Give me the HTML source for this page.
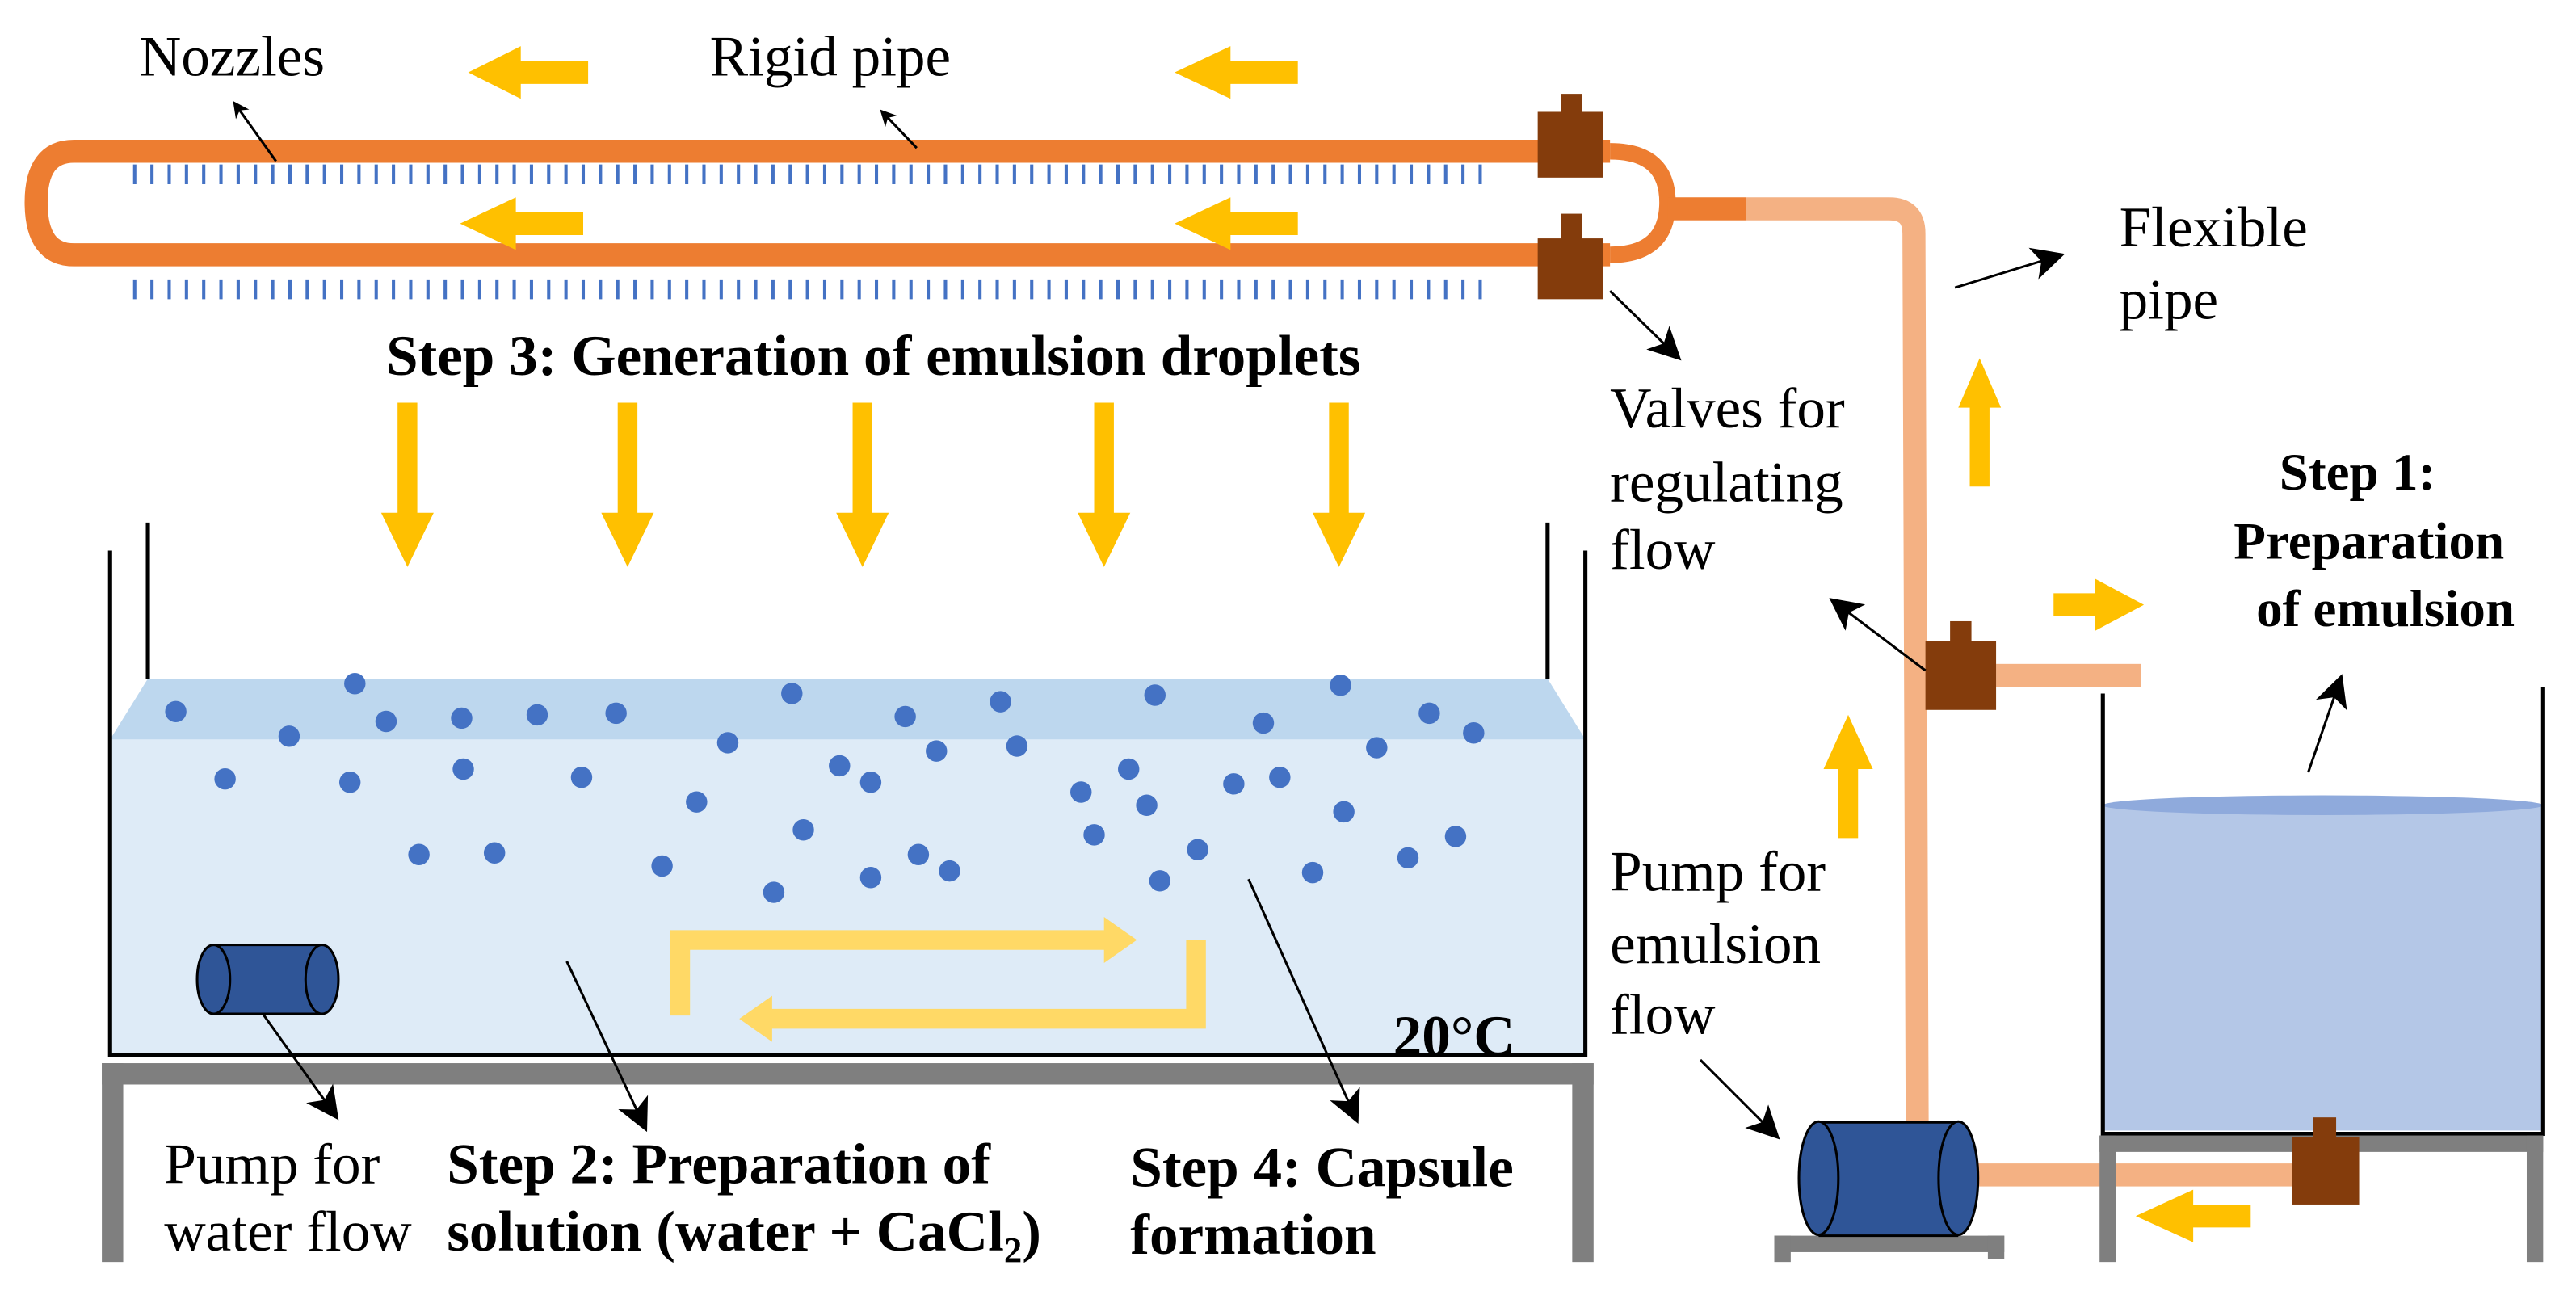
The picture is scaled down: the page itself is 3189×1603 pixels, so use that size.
<!DOCTYPE html>
<html><head><meta charset="utf-8"><style>
html,body{margin:0;padding:0;background:#fff;}
svg{display:block;}
text{font-family:"Liberation Serif",serif;fill:#000;}
.b{font-weight:bold;}
</style></head><body>
<svg width="3189" height="1603" viewBox="0 0 1568 788" xmlns="http://www.w3.org/2000/svg">
<defs>
<marker id="ah" markerWidth="10" markerHeight="10" refX="8" refY="5" orient="auto" markerUnits="userSpaceOnUse"><path d="M0,0 L10,5 L0,10 L3,5 z" fill="#000"/></marker>
<marker id="ahb" markerWidth="22" markerHeight="20" refX="18" refY="10" orient="auto" markerUnits="userSpaceOnUse"><path d="M0,0 L20,10 L0,20 L5,10 z" fill="#000"/></marker>
</defs>

<path d="M980,92 L45,92 Q22,92 22,123 Q22,155 45,155 L980,155" fill="none" stroke="#ED7D31" stroke-width="14"/>
<path d="M980,92 Q1015,92 1015,123 Q1015,155 980,155" fill="none" stroke="#ED7D31" stroke-width="10"/>
<rect x="1015" y="120" width="48" height="14" fill="#ED7D31"/>
<path d="M1063,127 L1150,127 Q1165,127 1165,142 L1167,690" fill="none" stroke="#F4B183" stroke-width="14"/>
<rect x="1215" y="404" width="88" height="14" fill="#F4B183"/>
<rect x="1200" y="708" width="195" height="14" fill="#F4B183"/>

<g stroke="#4472C4" stroke-width="2">
<path id="nz" d="M82,100v12M92.5,100v12M103,100v12M113.5,100v12M124,100v12M134.5,100v12M145,100v12M155.5,100v12M166,100v12M176.5,100v12M187,100v12M197.5,100v12M208,100v12M218.5,100v12M229,100v12M239.5,100v12M250,100v12M260.5,100v12M271,100v12M281.5,100v12M292,100v12M302.5,100v12M313,100v12M323.5,100v12M334,100v12M344.5,100v12M355,100v12M365.5,100v12M376,100v12M386.5,100v12M397,100v12M407.5,100v12M418,100v12M428.5,100v12M439,100v12M449.5,100v12M460,100v12M470.5,100v12M481,100v12M491.5,100v12M502,100v12M512.5,100v12M523,100v12M533.5,100v12M544,100v12M554.5,100v12M565,100v12M575.5,100v12M586,100v12M596.5,100v12M607,100v12M617.5,100v12M628,100v12M638.5,100v12M649,100v12M659.5,100v12M670,100v12M680.5,100v12M691,100v12M701.5,100v12M712,100v12M722.5,100v12M733,100v12M743.5,100v12M754,100v12M764.5,100v12M775,100v12M785.5,100v12M796,100v12M806.5,100v12M817,100v12M827.5,100v12M838,100v12M848.5,100v12M859,100v12M869.5,100v12M880,100v12M890.5,100v12M901,100v12"/>
<use href="#nz" y="70"/>
</g>

<g fill="#843C0C">
<rect x="950" y="57" width="13" height="13"/><rect x="936" y="68" width="40" height="40"/>
<rect x="950" y="130" width="13" height="18"/><rect x="936" y="145" width="40" height="37"/>
<rect x="1187" y="378" width="13" height="14"/><rect x="1172" y="390" width="43" height="42"/>
</g>

<g fill="#FFC000">
<path d="M358,37 L317,37 L317,28 L285,44 L317,60 L317,51 L358,51 z"/>
<path d="M790,37 L749,37 L749,28 L715,44 L749,60 L749,51 L790,51 z"/>
<path d="M355,129 L314,129 L314,120 L280,136 L314,152 L314,143 L355,143 z"/>
<path d="M790,129 L749,129 L749,120 L715,136 L749,152 L749,143 L790,143 z"/>
<path d="M1370,733 L1335,733 L1335,724 L1300,740 L1335,756 L1335,747 L1370,747 z"/>
<path d="M1250,361 L1275,361 L1275,352 L1305,368 L1275,384 L1275,375 L1250,375 z"/>
<path d="M1199,296 L1199,248 L1192,248 L1205,218 L1218,248 L1211,248 L1211,296 z"/>
<path d="M1119,510 L1119,468 L1110,468 L1125,435 L1140,468 L1131,468 L1131,510 z"/>
<g id="da"><path d="M242,245 L242,312 L232,312 L248,345 L264,312 L254,312 L254,245 z"/></g>
<use href="#da" x="134"/><use href="#da" x="277"/><use href="#da" x="424"/><use href="#da" x="567"/>
</g>

<polygon points="90,413 942,413 965,450 67,450" fill="#BDD7EE"/>
<rect x="67" y="450" width="898" height="191" fill="#DEEBF7"/>
<g stroke="#000" stroke-width="2.5" fill="none">
<path d="M67,335 L67,642 L965,642 L965,335"/>
<path d="M90,318 L90,413"/><path d="M942,318 L942,413"/>
</g>
<g fill="#7F7F7F">
<rect x="62" y="647" width="908" height="13"/><rect x="62" y="647" width="13" height="121"/><rect x="957" y="647" width="13" height="121"/>
</g>
<g fill="#4472C4">
<circle cx="107" cy="433" r="6.5"/><circle cx="216" cy="416" r="6.5"/><circle cx="235" cy="439" r="6.5"/><circle cx="281" cy="437" r="6.5"/><circle cx="327" cy="435" r="6.5"/><circle cx="375" cy="434" r="6.5"/><circle cx="176" cy="448" r="6.5"/><circle cx="137" cy="474" r="6.5"/><circle cx="213" cy="476" r="6.5"/><circle cx="282" cy="468" r="6.5"/><circle cx="354" cy="473" r="6.5"/><circle cx="443" cy="452" r="6.5"/><circle cx="482" cy="422" r="6.5"/><circle cx="551" cy="436" r="6.5"/><circle cx="609" cy="427" r="6.5"/><circle cx="570" cy="457" r="6.5"/><circle cx="619" cy="454" r="6.5"/><circle cx="703" cy="423" r="6.5"/><circle cx="769" cy="440" r="6.5"/><circle cx="816" cy="417" r="6.5"/><circle cx="870" cy="434" r="6.5"/><circle cx="897" cy="446" r="6.5"/><circle cx="838" cy="455" r="6.5"/><circle cx="511" cy="466" r="6.5"/><circle cx="530" cy="476" r="6.5"/><circle cx="424" cy="488" r="6.5"/><circle cx="489" cy="505" r="6.5"/><circle cx="403" cy="527" r="6.5"/><circle cx="471" cy="543" r="6.5"/><circle cx="530" cy="534" r="6.5"/><circle cx="559" cy="520" r="6.5"/><circle cx="578" cy="530" r="6.5"/><circle cx="255" cy="520" r="6.5"/><circle cx="301" cy="519" r="6.5"/><circle cx="658" cy="482" r="6.5"/><circle cx="687" cy="468" r="6.5"/><circle cx="698" cy="490" r="6.5"/><circle cx="666" cy="508" r="6.5"/><circle cx="751" cy="477" r="6.5"/><circle cx="779" cy="473" r="6.5"/><circle cx="818" cy="494" r="6.5"/><circle cx="729" cy="517" r="6.5"/><circle cx="706" cy="536" r="6.5"/><circle cx="799" cy="531" r="6.5"/><circle cx="857" cy="522" r="6.5"/><circle cx="886" cy="509" r="6.5"/>
</g>
<g fill="#FFD966">
<path d="M408,618 L408,566 L672,566 L672,558 L692,572 L672,586 L672,578 L420,578 L420,618 z"/>
<path d="M734,572 L734,626 L470,626 L470,634 L450,620 L470,606 L470,614 L722,614 L722,572 z"/>
</g>
<g stroke="#000" stroke-width="1.5">
<rect x="130" y="575" width="66" height="42" fill="#2F5597" stroke="none"/>
<path d="M130,575 L196,575 M130,617 L196,617" fill="none"/>
<ellipse cx="130" cy="596" rx="10" ry="21" fill="#2F5597"/>
<ellipse cx="196" cy="596" rx="10" ry="21" fill="#2F5597"/>
</g>

<rect x="1281" y="490" width="267" height="198" fill="#B4C7E7"/>
<ellipse cx="1414" cy="490" rx="134" ry="6" fill="#8FAADC"/>
<path d="M1280,422 L1280,690 L1548,690 L1548,418" fill="none" stroke="#000" stroke-width="2.5"/>
<g fill="#7F7F7F">
<rect x="1278" y="691" width="270" height="10"/><rect x="1278" y="691" width="10" height="77"/><rect x="1538" y="691" width="10" height="77"/>
<rect x="1080" y="752" width="140" height="10"/><rect x="1080" y="752" width="10" height="16"/><rect x="1210" y="752" width="10" height="14"/>
</g>
<g fill="#843C0C"><rect x="1408" y="680" width="14" height="13"/><rect x="1395" y="692" width="41" height="41"/></g>
<g stroke="#000" stroke-width="1.5">
<rect x="1107" y="683" width="85" height="69" fill="#2F5597" stroke="none"/>
<path d="M1107,683 L1192,683 M1107,752 L1192,752" fill="none"/>
<ellipse cx="1107" cy="717" rx="12" ry="34.5" fill="#2F5597"/>
<ellipse cx="1192" cy="717" rx="12" ry="34.5" fill="#2F5597"/>
</g>

<g stroke="#000" stroke-width="1.5" fill="none">
<path d="M168,98 L143,63" marker-end="url(#ah)"/>
<path d="M558,90 L537,68" marker-end="url(#ah)"/>
<path d="M980,177 L1022,218" marker-end="url(#ahb)"/>
<path d="M1190,175 L1255,155" marker-end="url(#ahb)"/>
<path d="M1172,408 L1115,365" marker-end="url(#ahb)"/>
<path d="M1405,470 L1425,412" marker-end="url(#ahb)"/>
<path d="M1035,645 L1082,692" marker-end="url(#ahb)"/>
<path d="M160,617 L205,680" marker-end="url(#ahb)"/>
<path d="M345,585 L393,687" marker-end="url(#ahb)"/>
<path d="M760,535 L826,682" marker-end="url(#ahb)"/>
</g>

<g font-size="35">
<text x="85" y="46">Nozzles</text>
<text x="432" y="46">Rigid pipe</text>
<text class="b" x="235" y="228">Step 3: Generation of emulsion droplets</text>
<text x="1290" y="150">Flexible</text>
<text x="1290" y="194">pipe</text>
<text x="980" y="260">Valves for</text>
<text x="980" y="305">regulating</text>
<text x="980" y="346">flow</text>
<text class="b" x="1435" y="298" text-anchor="middle" font-size="32">Step 1:</text>
<text class="b" x="1442" y="340" text-anchor="middle" font-size="32">Preparation</text>
<text class="b" x="1452" y="381" text-anchor="middle" font-size="32">of emulsion</text>
<text x="980" y="542">Pump for</text>
<text x="980" y="586">emulsion</text>
<text x="980" y="629">flow</text>
<text class="b" x="848" y="642">20°C</text>
<text x="100" y="720">Pump for</text>
<text x="100" y="761">water flow</text>
<text class="b" x="272" y="720">Step 2: Preparation of</text>
<text class="b" x="272" y="761">solution (water + CaCl<tspan font-size="22" dy="7">2</tspan><tspan dy="-7">)</tspan></text>
<text class="b" x="688" y="722">Step 4: Capsule</text>
<text class="b" x="688" y="763">formation</text>
</g>
</svg>
</body></html>
